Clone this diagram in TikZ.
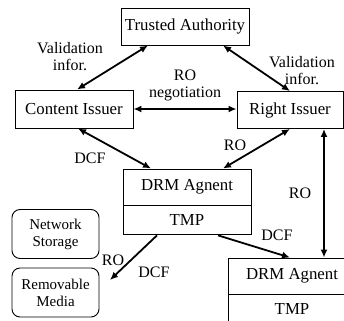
\documentclass[tikz,border=0pt]{standalone}
\usepackage{fontspec}
\setmainfont{Liberation Serif}
\newfontfamily\tnr{Liberation Serif}
\usetikzlibrary{arrows.meta,calc}
\begin{document}
\begin{tikzpicture}[x=1pt,y=-1pt,
  box/.style={draw,line width=0.9pt,inner sep=0pt,font=\tnr\fontsize{16.8}{18}\selectfont},
  rbox/.style={draw,line width=0.9pt,rounded corners=8pt,inner sep=0pt,align=center,
     minimum width=87pt,minimum height=49pt,font=\tnr\fontsize{15}{17}\selectfont},
  lbl/.style={inner sep=0pt,align=center,font=\tnr\fontsize{16}{17}\selectfont},
  dbl/.style={line width=1.8pt,{Latex[length=8pt,width=7pt]}-{Latex[length=8pt,width=7pt]}},
  sgl/.style={line width=1.8pt,-{Latex[length=8pt,width=7pt]}}]
\useasboundingbox (0,0) rectangle (344,320);
\begin{scope}
\clip (0,0) rectangle (344,320);
\node[box,minimum width=128pt,minimum height=37pt] (TA) at (185,26.5) {Trusted Authority};
\node[box,minimum width=118pt,minimum height=38pt] (CI) at (74,109) {Content Issuer};
\node[box,minimum width=106pt,minimum height=37pt] (RI) at (290,110) {Right Issuer};
\node[box,minimum width=128pt,minimum height=36pt] (D1) at (187,187) {DRM Agnent};
\node[box,minimum width=128pt,minimum height=29pt,anchor=north] (T1) at (D1.south) {TMP};
\node[box,minimum width=128pt,minimum height=36pt] (D2) at (292,276) {DRM Agnent};
\node[box,minimum width=128pt,minimum height=29pt,anchor=north] (T2) at (D2.south) {TMP};
\node[rbox] (NS) at (55.5,234) {Network\\Storage};
\node[rbox] (RM) at (55.5,292.5) {Removable\\Media};
\end{scope}
\coordinate (rmtip) at (110,280);

\draw[dbl] ([xshift=-37pt]TA.south) -- ([xshift=3pt]CI.north);
\draw[dbl] ([xshift=38pt]TA.south) -- (RI.north);
\draw[dbl] (CI.east) -- (CI.east -| RI.west);
\draw[dbl] ([xshift=4pt]CI.south) -- ([xshift=-36pt]D1.north);
\draw[dbl] ([xshift=36pt]D1.north) -- (RI.south);
\draw[dbl] ([xshift=34pt]RI.south) -- ([xshift=34pt]RI.south |- D2.north);
\draw[sgl] ([xshift=31pt]T1.south) -- ([xshift=-2pt]D2.north);
\draw[sgl] ([xshift=-30pt]T1.south) -- (rmtip);

\node[lbl] (l1) at (70,57) {Validation\\infor.};
\node[lbl] (l2) at (302,71) {Validation\\infor.};
\node[lbl] (l3) at (185,85) {RO\\negotiation};
\node[lbl] (l4) at (90,158) {DCF};
\node[lbl] (l5) at (235,145) {RO};
\node[lbl] (l6) at (300,193) {RO};
\node[lbl] (l7) at (277,235) {DCF};
\node[lbl] (l8) at (113,260) {RO};
\node[lbl] (l9) at (154,272) {DCF};
\end{tikzpicture}
\end{document}
